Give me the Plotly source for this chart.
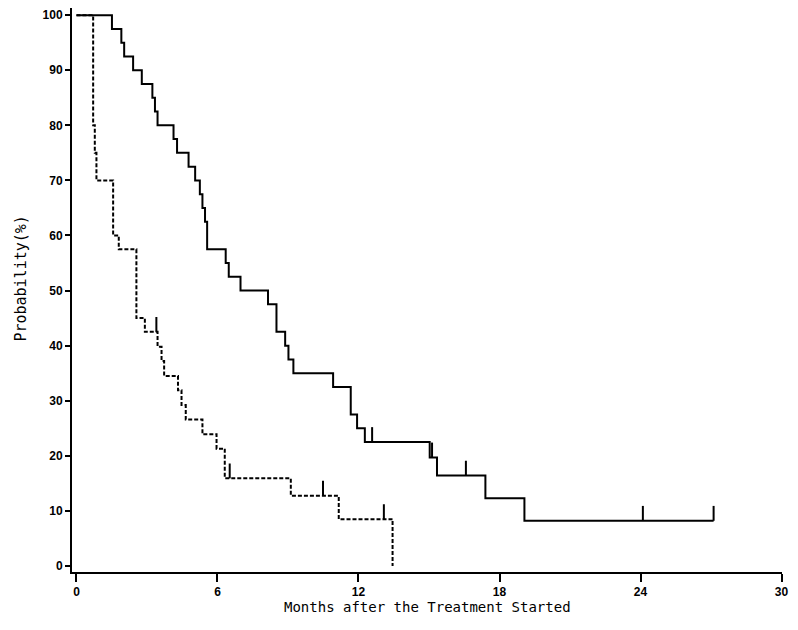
import plotly.graph_objects as go

# ---- data ----
solid_times = [0, 1.51, 1.91, 2.03, 2.41, 2.78, 3.23, 3.34, 3.45, 4.13, 4.28, 4.77, 5.05,
               5.25, 5.36, 5.47, 5.56, 6.35, 6.48, 6.98, 8.15, 8.51, 8.88, 9.02, 9.23,
               10.92, 11.67, 11.94, 12.27, 15.03, 15.34, 17.40, 19.06]
solid_surv = [100, 97.5, 95.0, 92.5, 90.0, 87.5, 85.0, 82.5, 80.0, 77.5, 75.0, 72.5, 70.0,
              67.5, 65.0, 62.5, 57.5, 55.0, 52.5, 50.0, 47.5, 42.5, 40.0, 37.5, 35.0,
              32.5, 27.5, 25.0, 22.5, 19.7, 16.4, 12.3, 8.2]
solid_censor = [12.58, 15.13, 16.57, 24.10, 27.11]

dashed_times = [0, 0.71, 0.78, 0.85, 1.56, 1.80, 2.55, 2.91, 3.45, 3.62, 3.73, 4.32, 4.47,
                4.65, 5.36, 5.96, 6.31, 9.12, 11.16, 13.45]
dashed_surv = [100, 80.0, 75.0, 70.0, 60.0, 57.5, 45.0, 42.5, 39.8, 37.2, 34.5, 31.9, 29.2,
               26.6, 23.9, 21.3, 15.9, 12.75, 8.5, 0]
dashed_censor = [3.40, 6.52, 10.49, 13.08]

x_ticks = [0, 6, 12, 18, 24, 30]
y_ticks = [0, 10, 20, 30, 40, 50, 60, 70, 80, 90, 100]

CENSOR_H = 2.7


def surv_at(times, surv, t):
    v = surv[0]
    for ti, si in zip(times, surv):
        if ti <= t:
            v = si
    return v


def censor_segments(times, surv, cens):
    xs, ys = [], []
    for c in cens:
        s = surv_at(times, surv, c)
        xs += [c, c, None]
        ys += [s, s + CENSOR_H, None]
    return xs, ys


fig = go.Figure()

# solid curve (extend to last censor time)
sx = solid_times + [max(solid_censor)]
sy = solid_surv + [solid_surv[-1]]
fig.add_trace(go.Scatter(x=sx, y=sy, mode="lines", line=dict(color="black", width=2, shape="hv"),
                         showlegend=False, hoverinfo="skip"))
cx, cy = censor_segments(solid_times, solid_surv, solid_censor)
fig.add_trace(go.Scatter(x=cx, y=cy, mode="lines", line=dict(color="black", width=2),
                         showlegend=False, hoverinfo="skip"))

# dashed curve
fig.add_trace(go.Scatter(x=dashed_times, y=dashed_surv, mode="lines",
                         line=dict(color="black", width=2, shape="hv", dash="4px,2px"),
                         showlegend=False, hoverinfo="skip"))
cx, cy = censor_segments(dashed_times, dashed_surv, dashed_censor)
fig.add_trace(go.Scatter(x=cx, y=cy, mode="lines", line=dict(color="black", width=2),
                         showlegend=False, hoverinfo="skip"))

tickfont = dict(family="Liberation Sans Narrow, Arial Narrow, sans-serif", size=12,
                color="black", weight="bold")
titlefont = dict(family="DejaVu Sans Mono, monospace", size=14, color="black")

fig.update_layout(
    width=798, height=630,
    margin=dict(l=72, r=16, t=8, b=58),
    paper_bgcolor="white", plot_bgcolor="white",
    xaxis=dict(range=[-0.19, 30.02], tickvals=x_ticks, ticktext=[str(v) for v in x_ticks],
               showgrid=False, zeroline=False, showline=True, linecolor="black", linewidth=2,
               ticks="outside", ticklen=8, tickwidth=2, tickcolor="black", tickfont=tickfont),
    yaxis=dict(range=[-1.1, 101.3], tickvals=y_ticks, ticktext=[str(v) for v in y_ticks],
               showgrid=False, zeroline=False, showline=True, linecolor="black", linewidth=2,
               ticks="outside", ticklen=5, tickwidth=1.5, tickcolor="black", tickfont=tickfont),
    annotations=[
        dict(text="Months after the Treatment Started", xref="paper", yref="paper",
             x=0.5, y=-0.062, xanchor="center", yanchor="middle", showarrow=False,
             font=titlefont),
        dict(text="Probability(%)", xref="paper", yref="paper", x=-0.072, y=0.52,
             xanchor="center", yanchor="middle", showarrow=False, textangle=-90,
             font=dict(family="DejaVu Sans Mono, monospace", size=15, color="black")),
    ],
)

fig.write_html("out.html", config={"displayModeBar": False},
               post_script="document.body.style.margin='0';document.body.style.overflow='hidden';")
